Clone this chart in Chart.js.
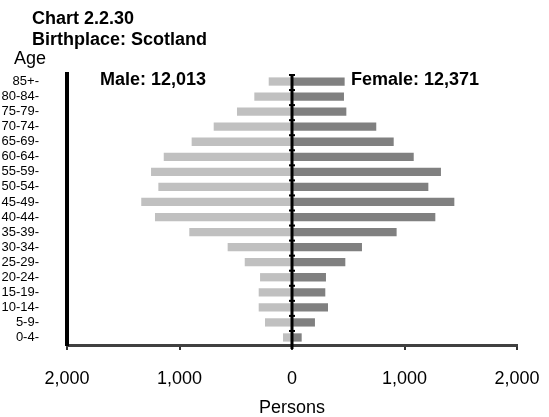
<!DOCTYPE html>
<html>
<head>
<meta charset="utf-8">
<script src="https://cdn.jsdelivr.net/npm/chart.js@4"></script>
<style>
  html, body { margin: 0; padding: 0; background: #fff; }
  canvas { display: block; }
</style>
</head>
<body>
<canvas id="pyramid" width="549" height="417"></canvas>
<script>
const ages = ['85+', '80-84', '75-79', '70-74', '65-69', '60-64', '55-59', '50-54', '45-49',
              '40-44', '35-39', '30-34', '25-29', '20-24', '15-19', '10-14', '5-9', '0-4'];
const male = [207, 335, 489, 696, 892, 1140, 1253, 1188, 1340, 1218, 913, 572, 420, 284, 296, 296, 240, 80];
const female = [468, 462, 483, 749, 904, 1082, 1324, 1212, 1443, 1274, 930, 622, 474, 302, 296, 320, 204, 86];
const xTicks = [-2000, -1000, 0, 1000, 2000];
const titleLines = ['Chart 2.2.30', 'Birthplace: Scotland'];
const maleLabel = 'Male: 12,013';
const femaleLabel = 'Female: 12,371';

const FONT = '"Liberation Sans", Arial, sans-serif';

// zero line with little ticks between the age groups, plus the headings
const extras = {
  id: 'extras',
  afterDatasetsDraw(chart) {
    const {ctx, chartArea, scales: {x}} = chart;
    const x0 = x.getPixelForValue(0);
    ctx.save();
    ctx.strokeStyle = '#000';
    ctx.lineWidth = 3;
    ctx.beginPath();
    ctx.moveTo(x0, chartArea.top);
    ctx.lineTo(x0, chartArea.bottom + 4);
    ctx.stroke();
    ctx.lineWidth = 2;
    const step = (chartArea.bottom - chartArea.top) / ages.length;
    for (let i = 0; i < ages.length; i++) {
      const yy = chartArea.top + step * i + 1;
      ctx.beginPath();
      ctx.moveTo(x0 - 3, yy);
      ctx.lineTo(x0 + 3, yy);
      ctx.stroke();
    }
    ctx.restore();
  },
  afterDraw(chart) {
    const ctx = chart.ctx;
    ctx.save();
    ctx.fillStyle = '#000';
    ctx.textBaseline = 'alphabetic';
    ctx.font = 'bold 18px ' + FONT;
    ctx.fillText(titleLines[0], 32, 24);
    ctx.fillText(titleLines[1], 32, 45);
    ctx.fillText(maleLabel, 100, 85);
    ctx.fillText(femaleLabel, 351, 85);
    ctx.font = '18px ' + FONT;
    ctx.fillText('Age', 14, 64);
    ctx.restore();
  }
};

new Chart(document.getElementById('pyramid'), {
  type: 'bar',
  data: {
    labels: ages,
    datasets: [
      {
        label: 'Male',
        data: male.map(v => -v),
        backgroundColor: '#c0c0c0',
        categoryPercentage: 1,
        barPercentage: 0.55
      },
      {
        label: 'Female',
        data: female,
        backgroundColor: '#808080',
        categoryPercentage: 1,
        barPercentage: 0.55
      }
    ]
  },
  plugins: [extras],
  options: {
    indexAxis: 'y',
    responsive: false,
    animation: false,
    layout: { padding: { top: 74, right: 32, left: 0, bottom: 0 } },
    scales: {
      x: {
        stacked: true,
        min: -2000,
        max: 2000,
        afterBuildTicks: scale => { scale.ticks = xTicks.map(v => ({ value: v })); },
        afterFit: scale => {
          scale.height = 72;
          scale.paddingLeft = 0;
          scale.paddingRight = 0;
        },
        grid: { drawOnChartArea: false, tickLength: 5, color: '#333', lineWidth: 2 },
        border: { color: '#404040', width: 3 },
        ticks: {
          color: '#000',
          font: { family: FONT, size: 18 },
          padding: 18,
          maxRotation: 0,
          callback: v => Math.abs(v).toLocaleString('en-US')
        },
        title: {
          display: true,
          text: 'Persons',
          color: '#000',
          font: { family: FONT, size: 18, lineHeight: 1 },
          padding: { top: 0, bottom: 0 }
        }
      },
      y: {
        stacked: true,
        afterFit: scale => { scale.width = 67; },
        grid: { display: false },
        border: { color: '#000', width: 4 },
        ticks: {
          color: '#000',
          font: { family: FONT, size: 13 },
          padding: 20,
          autoSkip: false,
          callback: (v, i) => ages[i] + '-'
        }
      }
    },
    plugins: {
      legend: { display: false },
      tooltip: { enabled: false }
    }
  }
});
</script>
</body>
</html>
